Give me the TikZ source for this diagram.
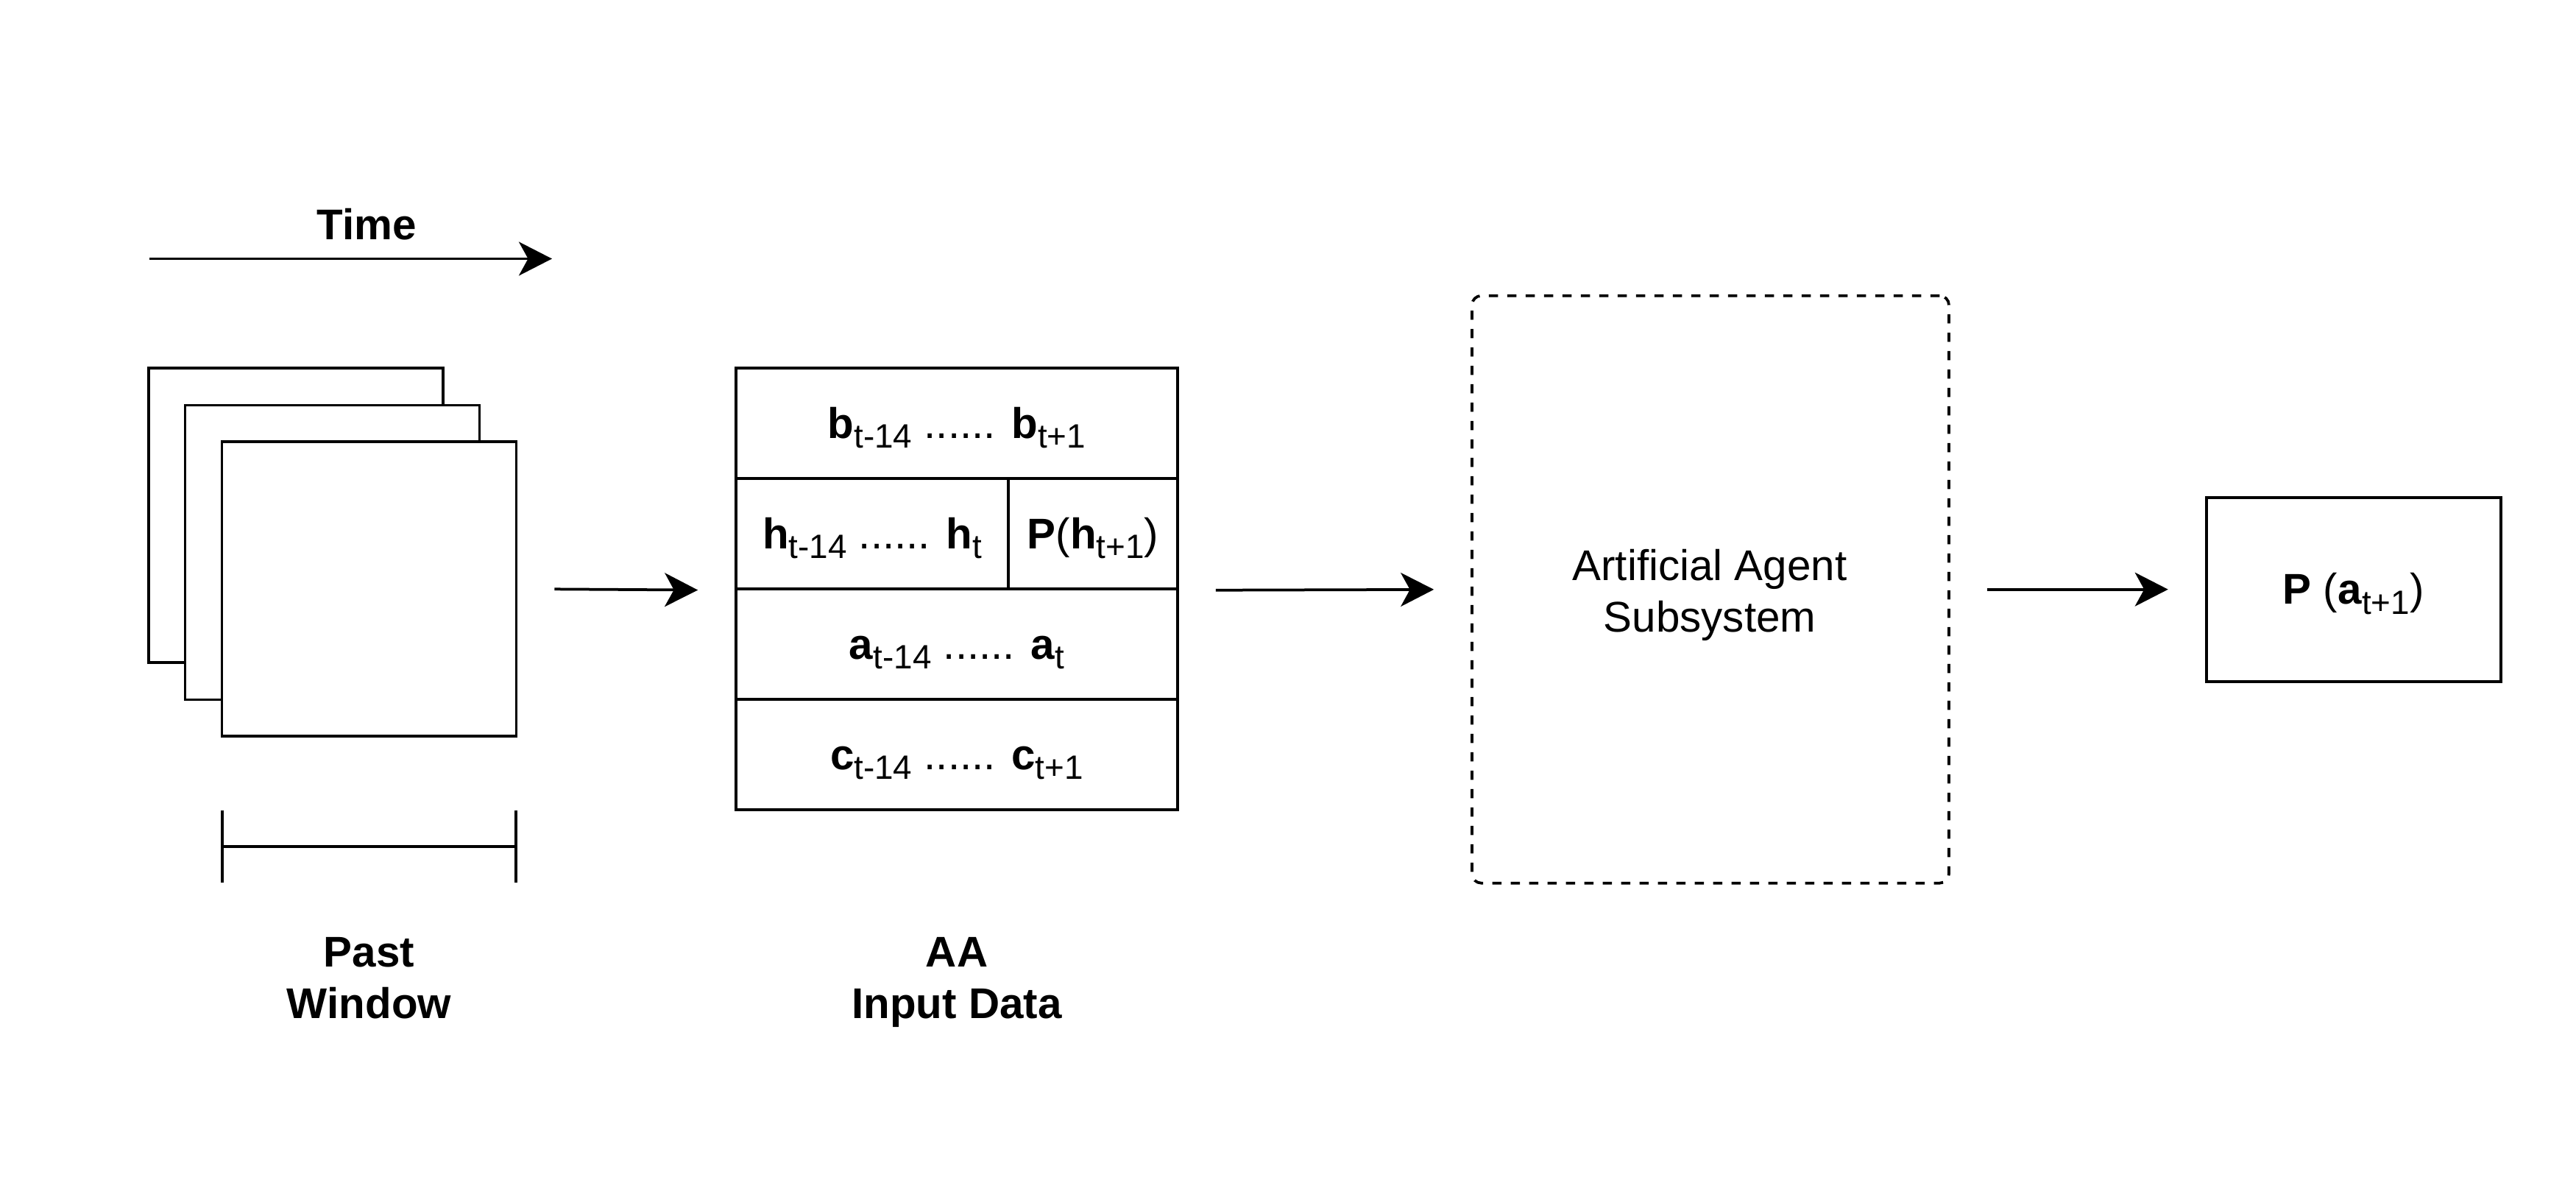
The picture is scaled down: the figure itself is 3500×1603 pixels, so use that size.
\documentclass[tikz,border=0pt]{standalone}
\usepackage{fontspec}
\setmainfont{Liberation Sans}
\usetikzlibrary{arrows.meta}
\newcommand\subs[1]{\raisebox{-3.3pt}{\fontsize{11}{12}\selectfont #1}}
\begin{document}
\begin{tikzpicture}[x=0.24pt,y=-0.24pt, line width=0.9pt,
  tip/.style={-{Stealth[length=10.8pt,width=11pt,inset=3pt]}},
  frame/.style={draw, fill=white, minimum width=96pt, minimum height=96pt, inner sep=0pt},
  cell/.style={draw, inner sep=0pt, minimum height=36pt, text height=10pt, text depth=0.4pt, font=\fontsize{14}{16.8}\selectfont},
  flow/.style={tip, shorten <=12pt, shorten >=12pt},
  lbl/.style={font=\bfseries\fontsize{14}{16.8}\selectfont, inner sep=0pt, anchor=base}]
\useasboundingbox (0,0) rectangle (3500,1603);

% time arrow
\coordinate (t0) at (203,351.5);
\coordinate (t1) at (750,351.5);
\draw[tip] (t0) -- (t1);
\node[lbl] (time) at (498,326) {Time};

% stacked frames
\node[frame] (f1) at (402,700) {};
\node[frame] (f2) at (451.5,750.5) {};
\node[frame] (f3) at (501.5,800) {};

% bracket
\coordinate (bl) at (302,1150);
\coordinate (br) at (701,1150);
\coordinate (bl1) at (302,1100.5);
\coordinate (bl2) at (302,1198.5);
\coordinate (br1) at (701,1100.5);
\coordinate (br2) at (701,1198.5);
\draw (bl) -- (br);
\draw (bl1) -- (bl2);
\draw (br1) -- (br2);
\node[lbl] (past) at (501.5,1313) {\begin{tabular}[t]{@{}c@{}}Past\\Window\end{tabular}};

% input data table
\node[cell, minimum width=144pt] (rb) at (1300,575) {\textbf{b}\subs{t-14} ...... \textbf{b}\subs{t+1}};
\node[cell, minimum width=88.8pt] (rh) at (1185,725) {\textbf{h}\subs{t-14} ...... \textbf{h}\subs{t}};
\node[cell, minimum width=55.2pt] (rp) at (1485,725) {\textbf{P}(\textbf{h}\subs{t+1})};
\node[cell, minimum width=144pt] (ra) at (1300,875) {\textbf{a}\subs{t-14} ...... \textbf{a}\subs{t}};
\node[cell, minimum width=144pt] (rc) at (1300,1025) {\textbf{c}\subs{t-14} ...... \textbf{c}\subs{t+1}};
\node[lbl] (aalbl) at (1300,1313) {\begin{tabular}[t]{@{}c@{}}AA\\Input Data\end{tabular}};

% agent subsystem
\node[draw, dash pattern=on 3pt off 3pt, rounded corners=3pt, minimum width=155.5pt, minimum height=191.5pt, inner sep=0pt] (aa) at (2324,800.7) {};
\node[font=\fontsize{14}{16.8}\selectfont, inner sep=0pt, anchor=base] (aatext) at (2323,788.5) {\begin{tabular}[t]{@{}c@{}}Artificial Agent\\Subsystem\end{tabular}};

% output
\node[cell, minimum width=96pt, minimum height=60pt] (out) at (3197.6,800.7) {\textbf{P} (\textbf{a}\subs{t+1})};

% connectors
\draw[flow] (f3.east) -- (rh.south west);
\draw[flow] (rp.south east) -- (aa.west);
\draw[flow] (aa.east) -- (out.west);
\end{tikzpicture}
\end{document}
